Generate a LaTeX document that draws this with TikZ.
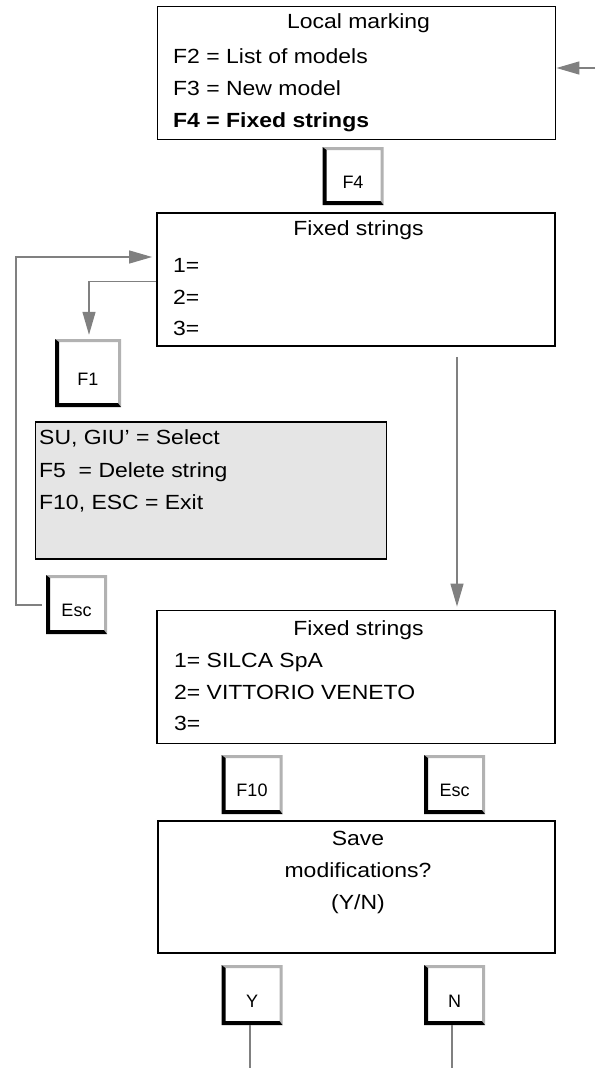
\documentclass[tikz,border=0pt]{standalone}
\usepackage{fontspec}
\setmainfont[FakeStretch=1.12]{Liberation Sans}
\newfontfamily\keyfont{Liberation Sans}
\usetikzlibrary{arrows.meta}

\def\pb{path picture bounding box}
\tikzset{
	screen/.style={draw, line width=1.8pt, minimum width=398pt, minimum height=133pt, inner sep=0pt},
	txt/.style={inner sep=0pt, font=\fontsize{20.5}{24}\selectfont},
	flow/.style={draw=gray, line width=1.3pt, -{Triangle[length=23pt,width=13pt]}},
	keycap/.style={fill=white, minimum width=61pt, minimum height=58pt, inner sep=0pt,
		font=\keyfont\fontsize{18}{18}\selectfont, text height=24pt, text depth=0pt,
		path picture={
			\fill[gray!60] (\pb.north west) -- (\pb.north east) -- (\pb.south east)
				-- ([shift={(-3pt,4pt)}]\pb.south east) -- ([shift={(-3pt,-3pt)}]\pb.north east)
				-- ([shift={(4pt,-3pt)}]\pb.north west) -- cycle;
			\fill[black] (\pb.north west) -- (\pb.south west) -- (\pb.south east)
				-- ([shift={(-3pt,4pt)}]\pb.south east) -- ([shift={(4pt,4pt)}]\pb.south west)
				-- ([shift={(4pt,-3pt)}]\pb.north west) -- cycle;
		}},
}

\begin{document}
\begin{tikzpicture}[x=1pt, y=-1pt, line cap=butt, line join=miter]
	\useasboundingbox (0,0) rectangle (595,1068);

	% Local marking
	\node[screen] (box1) at (356.5,73) {};
	\node[txt, anchor=base] at (358.5,28.5) {Local marking};
	\node[txt, anchor=base west] at (173,63.5) {F2 = List of models};
	\node[txt, anchor=base west] at (173,95.5) {F3 = New model};
	\node[txt, anchor=base west] at (173,127) {\bfseries F4 = Fixed strings};
	\coordinate (entry) at (595,68);
	\draw[flow] (entry) -- (entry -| box1.east);

	\node[keycap] (f4) at (353,176) {F4};

	% Fixed strings, empty
	\node[screen] (box2) at (356,279.5) {};
	\node[txt, anchor=base] at (358.5,235) {Fixed strings};
	\node[txt, anchor=base west] at (173,272) {1=};
	\node[txt, anchor=base west] at (173,304) {2=};
	\node[txt, anchor=base west] at (173,335) {3=};

	% F1 help
	\node[keycap, minimum width=66pt, minimum height=68pt] (f1) at (88,373) {F1};
	\coordinate (f1turn) at (89,281.5);
	\draw[flow, shorten >=4pt] (box2.west |- f1turn) -- (f1turn) -- (f1turn |- f1.north);

	\node[draw, line width=1.8pt, fill=black!10, minimum width=351pt, minimum height=137pt] (help) at (211,490.5) {};
	\node[txt, anchor=base west] at (39,444) {SU, GIU' = Select};
	\node[txt, anchor=base west] at (39,477) {F5\ \ = Delete string};
	\node[txt, anchor=base west] at (39,509) {F10, ESC = Exit};

	\node[keycap, minimum height=59pt] (esc1) at (76.5,604.5) {Esc};
	\coordinate (loopbot) at (16,605);
	\coordinate (looptop) at (16,257);
	\draw[flow, shorten <=4pt, shorten >=4pt] (esc1.west |- loopbot) -- (loopbot) -- (looptop) -- (box2.west |- looptop);

	% Fixed strings, filled
	\coordinate (drop) at (457,300);
	\node[screen] (box3) at (356,677) {};
	\draw[flow, shorten <=10pt, shorten >=3pt] (box2.south -| drop) -- (box3.north -| drop);
	\node[txt, anchor=base] at (358.5,635) {Fixed strings};
	\node[txt, anchor=base west] at (174,667) {1= SILCA SpA};
	\node[txt, anchor=base west] at (174,699) {2= VITTORIO VENETO};
	\node[txt, anchor=base west] at (174,730) {3=};

	\node[keycap, minimum height=59pt] (f10) at (252,784.5) {F10};
	\node[keycap, minimum height=59pt] (esc2) at (454.5,784.5) {Esc};

	% Save modifications
	\node[screen, minimum width=397pt, minimum height=132pt] (box4) at (356.5,887) {};
	\node[txt, anchor=base] at (358,845) {Save};
	\node[txt, anchor=base] at (358,877) {modifications?};
	\node[txt, anchor=base] at (358,909) {(Y/N)};

	\node[keycap, minimum height=60pt] (keyY) at (252,995) {Y};
	\node[keycap, minimum height=60pt] (keyN) at (454.5,995) {N};
	\coordinate (yend) at (250,1068);
	\coordinate (nend) at (452,1068);
	\draw[gray, line width=1.3pt] (keyY.south -| yend) -- (yend);
	\draw[gray, line width=1.3pt] (keyN.south -| nend) -- (nend);
\end{tikzpicture}
\end{document}
